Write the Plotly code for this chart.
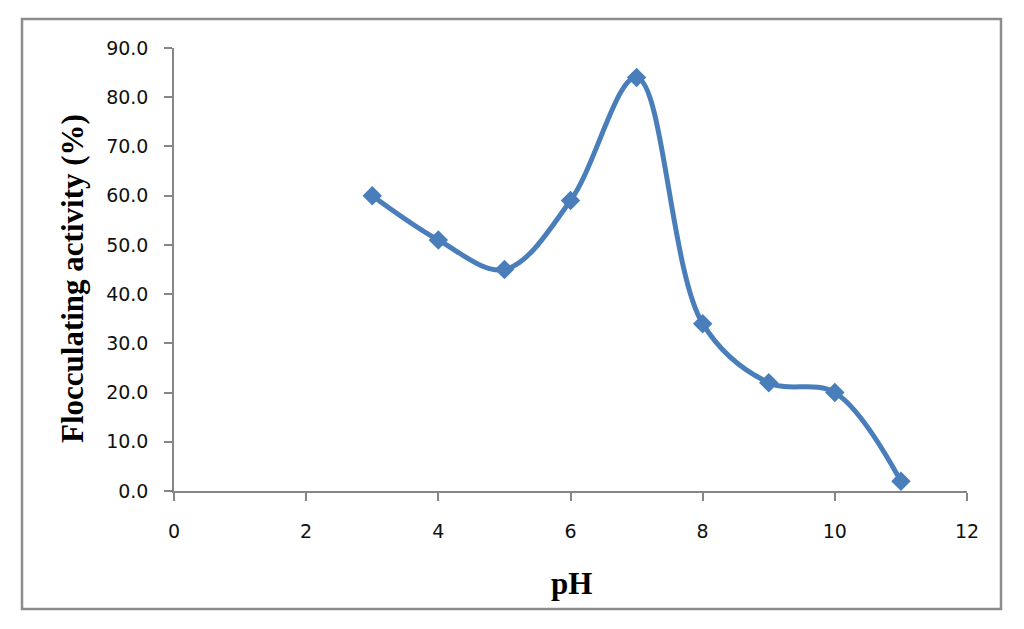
import plotly.graph_objects as go

ph = [3, 4, 5, 6, 7, 8, 9, 10, 11]
activity = [60.0, 51.0, 45.0, 59.0, 84.0, 34.0, 22.0, 20.0, 2.0]
x_ticks = [0, 2, 4, 6, 8, 10, 12]
y_ticks = [0, 10, 20, 30, 40, 50, 60, 70, 80, 90]

OFF = 8  # default page body margin
W, H = 1024 - 2 * OFF, 629 - 2 * OFF
L, T = 174 - OFF, 48 - OFF
R = W - (967 - OFF)
B = H - (491 - OFF)
pw, ph_ = W - L - R, H - T - B

fig = go.Figure()
fig.add_trace(go.Scatter(
    x=ph, y=activity, mode="lines+markers",
    line=dict(color="#4A7EBB", width=5, shape="spline", smoothing=1),
    marker=dict(symbol="diamond", size=15, color="#4A7EBB"),
    showlegend=False, cliponaxis=False,
))

axis_common = dict(
    showgrid=False, zeroline=False, showline=True, linecolor="#868686", linewidth=1.5,
    ticks="outside", tickcolor="#868686", ticklen=8, tickwidth=1.5,
    tickfont=dict(family="DejaVu Sans, sans-serif", size=19, color="#111111"),
)
fig.update_xaxes(range=[0, 12], tickvals=x_ticks, ticktext=[str(v) for v in x_ticks],
                 ticklabelstandoff=14, **axis_common)
fig.update_yaxes(range=[0, 90], tickvals=y_ticks, ticktext=[f"{v:.1f}" for v in y_ticks],
                 ticklabelstandoff=12, **axis_common)

def px_x(px):
    return (px - OFF - L) / pw

def px_y(py):
    return (H - B - (py - OFF)) / ph_

fig.add_shape(type="rect", xref="paper", yref="paper",
              x0=px_x(22), x1=px_x(1001), y0=px_y(609), y1=px_y(19),
              line=dict(color="#8C8C8C", width=2.5), fillcolor="rgba(0,0,0,0)", layer="below")

title_font = dict(family="Liberation Serif, Times New Roman, serif", size=31, color="#000000")
fig.add_annotation(text="<b>pH</b>", xref="paper", yref="paper", x=px_x(571), y=px_y(583),
                   showarrow=False, font=title_font, xanchor="center", yanchor="middle")
fig.add_annotation(text="<b>Flocculating activity (%)</b>", xref="paper", yref="paper",
                   x=px_x(72), y=px_y(279), textangle=-90,
                   showarrow=False, font=title_font, xanchor="center", yanchor="middle")

fig.update_layout(
    width=W, height=H, margin=dict(l=L, r=R, t=T, b=B),
    paper_bgcolor="white", plot_bgcolor="white",
)
fig.write_html("out.html")
